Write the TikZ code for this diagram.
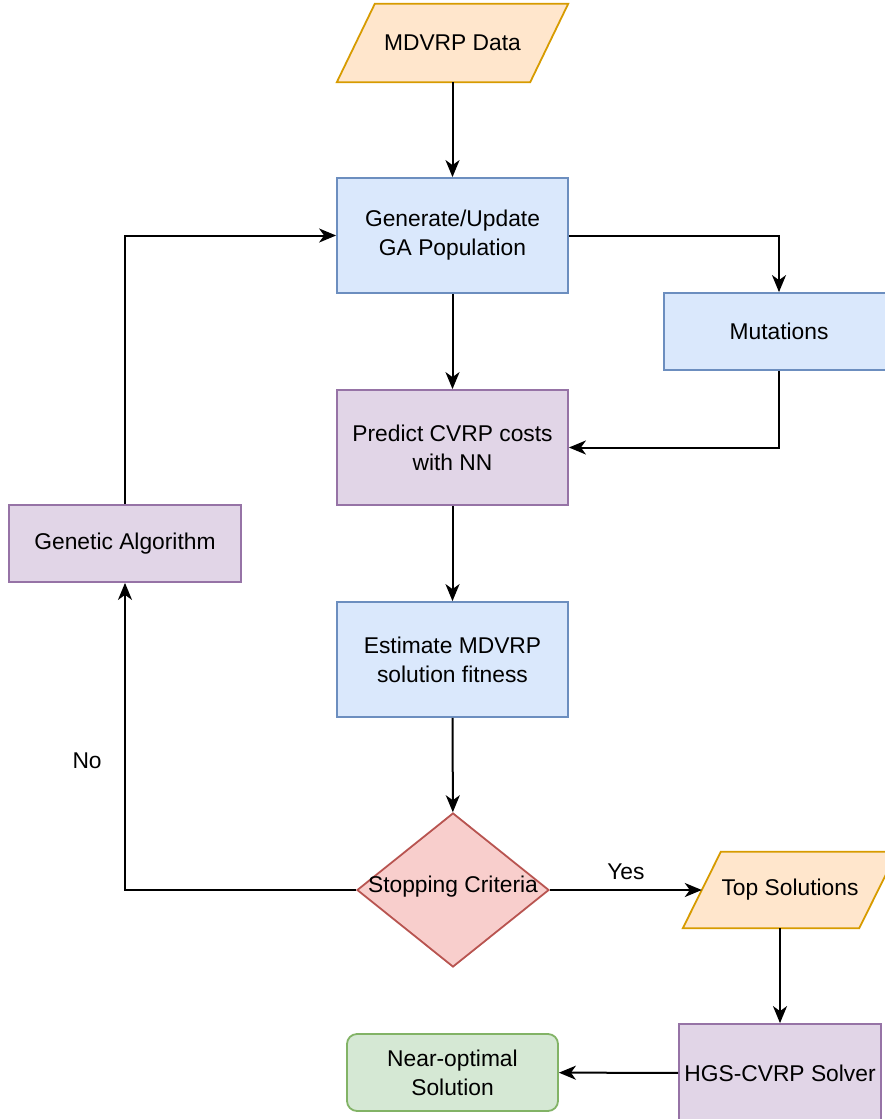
\documentclass[tikz,border=0pt]{standalone}
\usepackage{fontspec}
\setmainfont{Liberation Sans}
\usetikzlibrary{shapes.geometric,arrows.meta,backgrounds}
\definecolor{blueF}{HTML}{DAE8FC}
\definecolor{blueD}{HTML}{6C8EBF}
\definecolor{purpF}{HTML}{E1D5E7}
\definecolor{purpD}{HTML}{9673A6}
\definecolor{orngF}{HTML}{FFE6CC}
\definecolor{orngD}{HTML}{D79B00}
\definecolor{redF}{HTML}{F8CECC}
\definecolor{redD}{HTML}{B85450}
\definecolor{grnF}{HTML}{D5E8D4}
\definecolor{grnD}{HTML}{82B366}
\newcommand\ioshape[1]{\draw [iofill] ([xshift=38pt]#1.north west) -- (#1.north east)
  -- ([xshift=-38pt]#1.south east) -- (#1.south west) -- cycle;}
\begin{document}
\begin{tikzpicture}[x=1pt,y=-1pt,font=\fontsize{22.8}{29}\selectfont,
  box/.style={rectangle,draw,line width=1.8pt,minimum width=231pt,minimum height=115pt,align=center,inner sep=0pt},
  blue/.style={box,fill=blueF,draw=blueD},
  purp/.style={box,fill=purpF,draw=purpD},
  io/.style={rectangle,minimum width=231pt,minimum height=78pt,inner sep=0pt},
  iofill/.style={draw=orngD,fill=orngF,line width=1.8pt,line join=miter},
  arr/.style={-{Stealth[length=17pt,width=14pt,inset=5pt]},line width=2pt}]
\useasboundingbox (0,0) rectangle (885,1119);
\node [io] (data) at (452.5,43) {MDVRP Data};
\node [blue] (gen) at (452.5,235.5) {Generate/Update\\GA Population};
\node [blue,minimum width=230pt,minimum height=77pt] (mut) at (779,331.5) {Mutations};
\node [purp] (pred) at (452.5,447.5) {Predict CVRP costs\\with NN};
\node [purp,minimum width=232pt,minimum height=77pt] (ga) at (125,543.5) {Genetic Algorithm};
\node [blue] (est) at (452.5,659.5) {Estimate MDVRP\\solution fitness};
\node [diamond,draw=redD,fill=redF,line width=1.8pt,minimum width=192pt,minimum height=154pt,inner sep=0pt,
  label={[yshift=3pt]center:Stopping Criteria}] (stop) at (453,890) {};
\node [io,minimum width=214pt,minimum height=76pt] (top) at (790,890) {Top Solutions};
\node [purp,minimum width=202pt,minimum height=98pt] (hgs) at (780,1073) {HGS-CVRP Solver};
\node [box,rounded corners=10pt,fill=grnF,draw=grnD,minimum width=211pt,minimum height=77pt] (near) at (452.5,1072.5) {Near-optimal\\Solution};
\begin{scope}[on background layer]
\ioshape{data}
\ioshape{top}
\end{scope}
\draw [arr] (data) -- (gen);
\draw [arr] (gen.east) -| (mut.north);
\draw [arr] (gen) -- (pred);
\draw [arr] (mut.south) |- (pred.east);
\draw [arr] (pred) -- (est);
\draw [arr] (est) -- (stop);
\draw [arr] (stop.west) -| (ga.south) node [pos=0.71,left,xshift=-19pt] {No};
\draw [arr] (ga.north) |- (gen.west);
\draw [arr] (stop.east) -- ([xshift=19pt]top.west) node [midway,above,yshift=6pt] {Yes};
\draw [arr] (top.south -| hgs.north) -- (hgs.north);
\draw [arr] (hgs) -- (near);
\end{tikzpicture}
\end{document}
